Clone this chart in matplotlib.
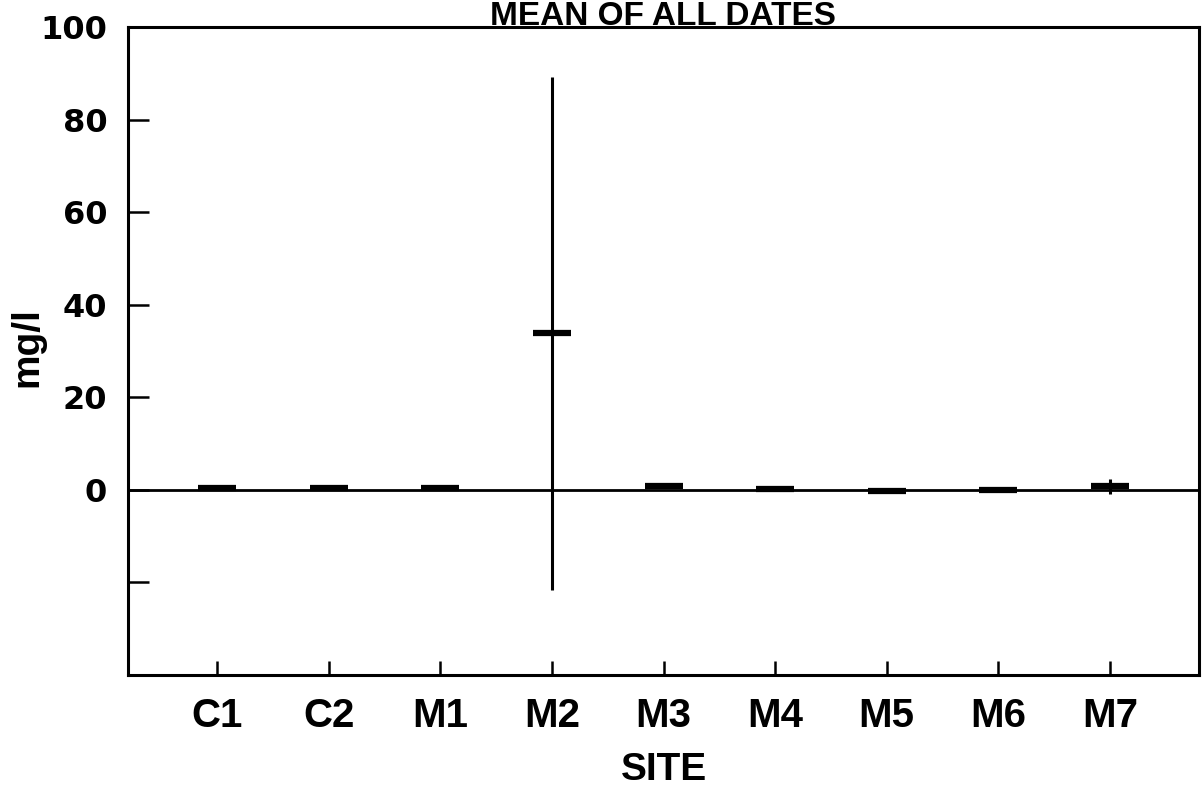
import matplotlib
matplotlib.use("Agg")
import matplotlib.pyplot as plt

# site means and error half-widths (mg/l)
sites = ['C1', 'C2', 'M1', 'M2', 'M3', 'M4', 'M5', 'M6', 'M7']
means = [0.5, 0.5, 0.3, 33.8, 0.8, 0.1, -0.2, 0.0, 0.75]
errors = [0.0, 0.0, 0.0, 55.5, 0.0, 0.0, 0.0, 0.0, 1.65]
y_ticks = [-20, 0, 20, 40, 60, 80, 100]
y_tick_labels = ['', '0', '20', '40', '60', '80', '100']

plt.rcParams['font.family'] = ['Liberation Sans', 'DejaVu Sans']
plt.rcParams['font.weight'] = 'bold'

fig = plt.figure(figsize=(12.04, 7.89), dpi=100)
ax = fig.add_axes([0.1063, 0.1445, 0.8896, 0.8213])

x = list(range(1, len(sites) + 1))

# zero reference line
ax.axhline(0, color='black', lw=2, zorder=1)

# error bars and mean dashes
ax.errorbar(x, means, yerr=errors, fmt='none', ecolor='black', elinewidth=2.2, capsize=0, zorder=2)
ax.plot(x, means, linestyle='none', marker='_', markersize=27, markeredgewidth=4.5,
        color='black', zorder=3)

ax.set_xlim(0.2, 9.8)
ax.set_ylim(-40, 100)
ax.set_xticks(x)
ax.set_xticklabels(sites, fontsize=29, fontweight='bold')
ax.set_yticks(y_ticks)
ax.set_yticklabels(y_tick_labels, fontsize=23, fontweight='bold', family='DejaVu Sans')

ax.tick_params(axis='y', direction='in', length=15, width=1.8, pad=15)
ax.tick_params(axis='x', direction='in', length=10, width=1.8, pad=16)
for s in ax.spines.values():
    s.set_linewidth(2.2)

ax.set_xlabel('SITE', fontsize=28, fontweight='bold', labelpad=12)

# y label placed by hand so it stays inside the figure
fig.text(27 / 1204, 1 - 347 / 789, 'mg/l', rotation=90, ha='center', va='center',
         fontsize=28, fontweight='bold')

fig.text(0.551, 1 - 25 / 789, 'MEAN OF ALL DATES', ha='center', va='baseline',
         fontsize=24, fontweight='bold')

fig.savefig('out.png', dpi=100)
